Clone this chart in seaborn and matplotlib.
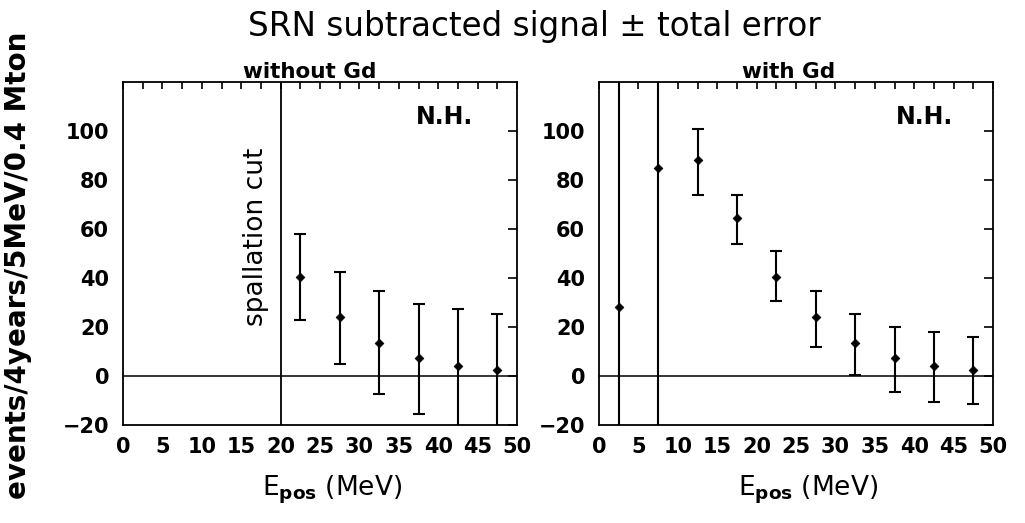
import numpy as np
import pandas as pd
import matplotlib
matplotlib.use("Agg")
import matplotlib.pyplot as plt
from matplotlib.ticker import MultipleLocator
import seaborn as sns

# ---- data ----
x_left = [22.5, 27.5, 32.5, 37.5, 42.5, 47.5]
y_left = [40.5, 24.0, 13.5, 7.5, 4.0, 2.5]
lo_left = [23.0, 5.0, -7.5, -15.5, -21.0, -21.0]
hi_left = [58.0, 42.5, 34.5, 29.5, 27.5, 25.5]

x_right = [2.5, 7.5, 12.5, 17.5, 22.5, 27.5, 32.5, 37.5, 42.5, 47.5]
y_right = [28.0, 85.0, 88.0, 64.5, 40.5, 24.0, 13.5, 7.5, 4.0, 2.5]
lo_right = [-72.0, -25.0, 74.0, 54.0, 30.5, 12.0, 0.5, -6.5, -10.5, -11.5]
hi_right = [128.0, 195.0, 101.0, 74.0, 51.0, 34.5, 25.5, 20.0, 18.0, 16.0]

spallation_cut = 20.0
y_ticks = [-20, 0, 20, 40, 60, 80, 100]
title = "SRN subtracted signal \u00b1 total error"
panel_titles = ["without Gd", "with Gd"]
ylabel = "events/4years/5MeV/0.4 Mton"
xlabel = r"E$_{\mathbf{pos}}$ (MeV)"

sns.set_theme(style="white")
plt.rcParams["font.family"] = ["DejaVu Sans"]
plt.rcParams["mathtext.fontset"] = "dejavusans"

fig = plt.figure(figsize=(10.25, 5.23), dpi=100)
axL = fig.add_axes([0.120, 0.1874, 0.3844, 0.6558])
axR = fig.add_axes([0.5844, 0.1874, 0.3844, 0.6558])

panels = [
    (axL, x_left, y_left, lo_left, hi_left, 0.815),
    (axR, x_right, y_right, lo_right, hi_right, 0.827),
]

for ax, xs, ys, lo, hi, nhx in panels:
    xs = np.asarray(xs); ys = np.asarray(ys)
    lo = np.asarray(lo); hi = np.asarray(hi)
    df = pd.DataFrame({"E": xs, "N": ys})
    ax.errorbar(xs, ys, yerr=[ys - lo, hi - ys], fmt="none", ecolor="black",
                elinewidth=1.5, capsize=4, capthick=1.5, zorder=3)
    sns.scatterplot(data=df, x="E", y="N", marker="D", s=20, color="black",
                    edgecolor="black", linewidth=0.5, ax=ax, zorder=4, legend=False)
    ax.axhline(0, color="black", lw=1.1, zorder=2)
    ax.set_xlim(0, 50)
    ax.set_ylim(-20, 120)
    ax.set_yticks(y_ticks)
    ax.xaxis.set_major_locator(MultipleLocator(5))
    ax.xaxis.set_minor_locator(MultipleLocator(2.5))
    ax.tick_params(axis="both", which="both", direction="in", top=True, right=True,
                   color="black", width=1.2, labelsize=15, labelcolor="black")
    ax.tick_params(axis="y", which="major", length=6.5, pad=10)
    ax.tick_params(axis="x", which="both", length=5, pad=9)
    for lab in ax.get_yticklabels() + ax.get_xticklabels():
        lab.set_fontweight("bold")
    for sp in ax.spines.values():
        sp.set_color("black")
        sp.set_linewidth(1.3)
    ax.set_xlabel(xlabel, fontsize=19, color="black")
    ax.xaxis.set_label_coords(0.53, -0.19)
    ax.xaxis.label.set_va("center")
    ax.set_ylabel("")
    ax.text(nhx, 0.898, "N.H.", transform=ax.transAxes, ha="center", va="center",
            fontsize=17, fontweight="bold", color="black")

axL.axvline(spallation_cut, color="black", lw=1.3, zorder=2)
axL.text(16.9, 57, "spallation cut", rotation=90, ha="center", va="center",
         fontsize=19, color="black")

fig.text(0.521, 0.950, title, ha="center", va="center", fontsize=23.5, color="black")
fig.text(0.302, 0.862, panel_titles[0], ha="center", va="center", fontsize=15.5,
         fontweight="bold", color="black")
fig.text(0.769, 0.862, panel_titles[1], ha="center", va="center", fontsize=15.5,
         fontweight="bold", color="black")
fig.text(0.018, 0.493, ylabel, rotation=90, ha="center", va="center", fontsize=20,
         fontweight="bold", color="black")

fig.savefig("out.png", dpi=100, facecolor="white")
